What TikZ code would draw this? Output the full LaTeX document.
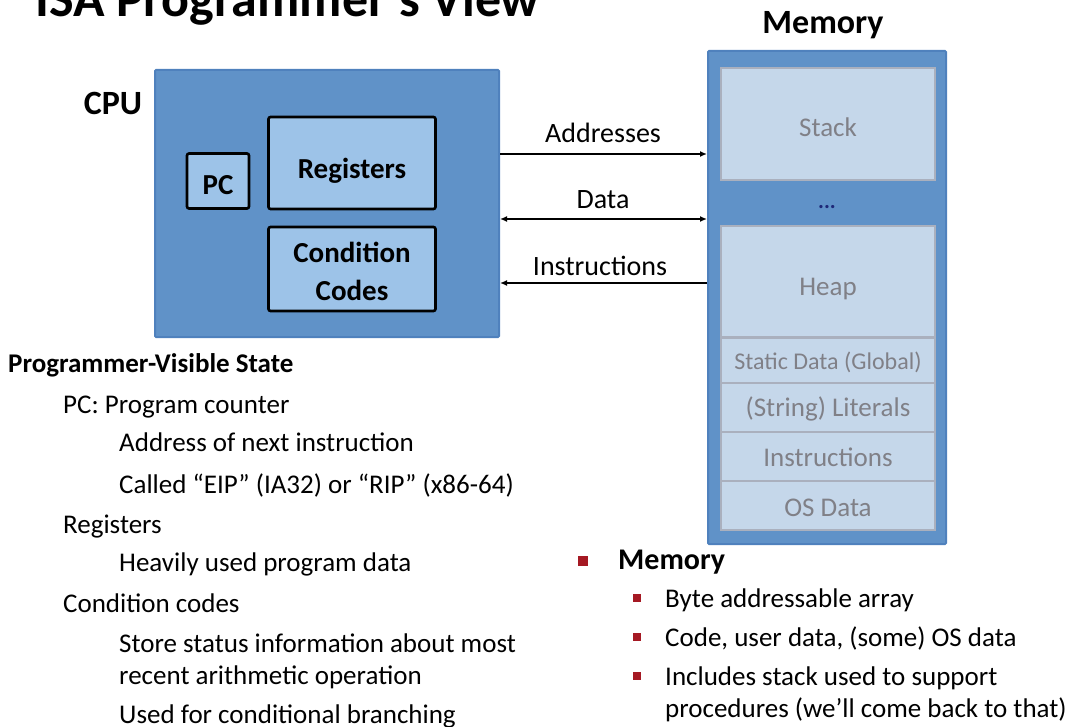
\documentclass[tikz,border=0pt]{standalone}
\usepackage{fontspec}
\setmainfont{Carlito}
\usetikzlibrary{arrows.meta}
\definecolor{outerblue}{RGB}{96,146,200}
\definecolor{outeredge}{RGB}{79,129,189}
\definecolor{innerblue}{RGB}{157,195,232}
\definecolor{memseg}{RGB}{197,215,234}
\definecolor{memedge}{RGB}{170,176,190}
\definecolor{memtext}{RGB}{128,128,135}
\definecolor{bulletred}{RGB}{165,25,35}
\definecolor{dotblue}{RGB}{30,40,120}
\newcommand{\fs}[1]{\fontsize{#1}{#1}\selectfont}
\begin{document}
\begin{tikzpicture}[x=1pt,y=-1pt,
  tb/.style={text height=#1,text depth=0pt},
  outerbox/.style={draw=outeredge,line width=2pt,fill=outerblue,inner sep=0pt,rounded corners=1pt},
  cpubox/.style={draw=black,line width=2.6pt,fill=innerblue,rounded corners=2pt,inner sep=0pt,font=\bfseries\fontsize{29}{38}\selectfont,align=center},
  memcell/.style={draw=memedge,line width=2pt,fill=memseg,inner sep=0pt,minimum width=214pt,text=memtext,font=\fs{27}},
  head/.style={font=\bfseries\fs{34},inner sep=0pt},
  lbl/.style={font=\fs{28},inner sep=0pt},
  txt/.style={font=\fs{27},inner sep=0pt,anchor=base west},
  bus/.style={line width=1.6pt,black},
  tip/.tip={Latex[length=7pt,width=6pt]},
  redsq/.style={fill=bulletred,inner sep=0pt}
]
\useasboundingbox (0,0) rectangle (1076,727);
% title
\node[font=\bfseries\fs{52},anchor=base west,inner sep=0pt] (title) at (35,17) {ISA Programmer’s View};
% CPU
\node[outerbox,minimum width=344pt,minimum height=267pt] (cpu) at (327,203.5) {};
\node[head] (cpulbl) at (113,103) {CPU};
\node[cpubox,tb=28pt,minimum width=62pt,minimum height=55pt] (pc) at (218,181) {PC};
\node[cpubox,tb=32pt,minimum width=167pt,minimum height=92pt] (regs) at (352,163) {Registers};
\node[cpubox,tb=64pt,minimum width=167pt,minimum height=84pt] (cc) at (352,269) {Condition\\Codes};
% Memory
\node[head] (memlbl) at (823,25) {Memory};
\node[outerbox,minimum width=238pt,minimum height=493pt] (mem) at (827,297.5) {};
\node[memcell,tb=25pt,minimum height=112pt,line width=2.5pt] (stack) at (828,124) {Stack};
\node[text=dotblue,font=\bfseries\fs{22},inner sep=0pt] (dots) at (827,207) {...};
\node[memcell,tb=28pt,minimum height=111pt] (heap) at (828,281.5) {Heap};
\node[memcell,tb=19pt,minimum height=45pt,font=\fs{24}] (static) at (828,360) {Static Data (Global)};
\node[memcell,tb=19pt,minimum height=49pt] (lit) at (828,407) {(String) Literals};
\node[memcell,tb=21pt,minimum height=49pt] (instr) at (828,456) {Instructions};
\node[memcell,tb=22pt,minimum height=49pt] (osd) at (828,505.5) {OS Data};
% buses
\coordinate (ya) at (0,154);
\coordinate (yd) at (0,219);
\coordinate (yi) at (0,283);
\draw[bus,-tip] (cpu.east |- ya) -- (mem.west |- ya);
\draw[bus,tip-tip] (cpu.east |- yd) -- (mem.west |- yd);
\draw[bus,tip-] (cpu.east |- yi) -- (mem.west |- yi);
\node[lbl] (addr) at (603,133) {Addresses};
\node[lbl] (data) at (603,200) {Data};
\node[lbl] (ins) at (600,266) {Instructions};
% left list
\node[txt,font=\bfseries\fs{27}] (pvs) at (8,372) {Programmer-Visible State};
\node[txt] (t1) at (63,413) {PC: Program counter};
\node[txt] (t2) at (119,451) {Address of next instruction};
\node[txt] (t3) at (119,493) {Called “EIP” (IA32) or “RIP” (x86-64)};
\node[txt] (t4) at (63,533) {Registers};
\node[txt] (t5) at (119,571) {Heavily used program data};
\node[txt] (t6) at (63,612) {Condition codes};
\node[txt] (t7) at (119,652) {Store status information about most};
\node[txt] (t8) at (119,684) {recent arithmetic operation};
\node[txt] (t9) at (119,723) {Used for conditional branching};
% right list
\node[redsq,minimum size=10pt] (b0) at (583,561) {};
\node[txt,font=\bfseries\fs{30}] (m0) at (618,569) {Memory};
\node[redsq,minimum size=7.5pt] (b1) at (637,598) {};
\node[txt] (m1) at (665,607) {Byte addressable array};
\node[redsq,minimum size=7.5pt] (b2) at (637,637) {};
\node[txt] (m2) at (665,646) {Code, user data, (some) OS data};
\node[redsq,minimum size=7.5pt] (b3) at (637,676) {};
\node[txt] (m3) at (665,685) {Includes stack used to support};
\node[txt] (m4) at (665,717) {procedures (we’ll come back to that)};
\end{tikzpicture}
\end{document}
